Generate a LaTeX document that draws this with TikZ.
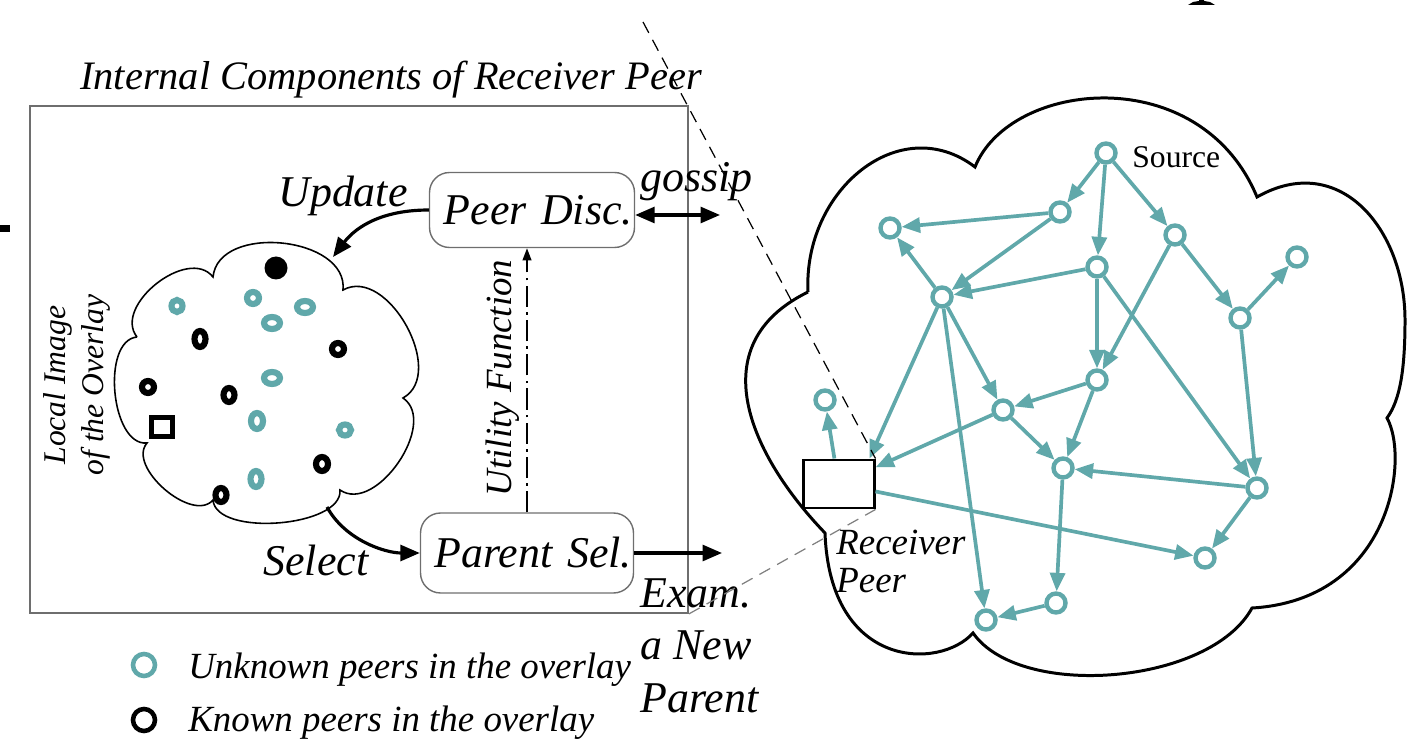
\documentclass[tikz,border=0pt]{standalone}
\usepackage{fontspec}
\setmainfont{Liberation Serif}
\usetikzlibrary{arrows.meta,positioning}
\definecolor{peerteal}{RGB}{96,168,170}
\definecolor{framegray}{RGB}{110,110,110}

\begin{document}
\begin{tikzpicture}[x=0.02cm,y=-0.02cm,
  lbl/.style={font=\fontsize{25}{30}\selectfont\itshape},
  comp/.style={draw=framegray,line width=0.8pt,rounded corners=0.4cm,inner xsep=1pt,align=right,lbl},
  peer/.style={circle,draw=peerteal,line width=2.5pt,minimum size=0.38cm,inner sep=0pt},
  link/.style={peerteal,line width=2.1pt,-{Triangle[length=10.5pt,width=8.5pt]}},
  bigarrow/.style={line width=1.8pt,-{Triangle[length=11pt,width=9pt]}},
  utilarrow/.style={line width=1.1pt,dash pattern=on 12pt off 3pt on 1.5pt off 3pt,-{Triangle[length=7pt,width=5pt]}},
  zoomline/.style={line width=0.7pt,dash pattern=on 7pt off 4.5pt},
  puff/.style={bend left=90,looseness=#1},puff/.default=1,
  legring/.style={circle,line width=2.6pt,minimum size=0.44cm,inner sep=0pt}]
\useasboundingbox (0,0) rectangle (1408,739);

% cut-off glyph fragments at the page edge
\fill (0,225) rectangle (10,232);
\fill (1188,5) -- (1215,5) -- (1210,2) -- (1204,1) -- (1204,0) -- (1199,0) -- (1199,1) -- (1193,2) -- cycle;

% receiver peer internals
\node[draw=framegray,line width=1.1pt,minimum width=13.16cm,minimum height=10.14cm,inner sep=0pt] (frame) at (359,359.5) {};
\node[font=\fontsize{23}{28}\selectfont\itshape,anchor=base,inner sep=0pt] (ttl) at (391,90) {Internal Components of Receiver Peer};

\node[comp,text width=4.03cm,minimum height=1.5cm] (pd) at (532,210) {Peer Disc.};
\node[comp,text width=4.19cm,minimum height=1.6cm] (ps) at (527,553) {Parent Sel.};

% local image of the overlay
\draw[line width=0.9pt] (137,337) to[puff=1.05] (213,277) to[puff=1.06] (343,290) to[puff=1.05] (403,398)
  to[puff] (340,490) to[puff=0.75] (213,500) to[puff=0.92] (147,443) to[puff=0.87] (137,337);
\node[rotate=90,align=center,font=\fontsize{18}{21.5}\selectfont\itshape] (locimg) at (77,385) {Local Image\\of the Overlay};

\foreach \x/\y/\rx/\ry in {177/306/5.5/6, 253/298/6/6, 305/307/8/6, 272/323/8/6,
    272/378/8/6, 257/421/6/8, 345/430/6/5.5, 256/479/5.5/8}
  \draw[peerteal,line width=3.5pt] (\x,\y) ellipse [x radius=\rx,y radius=\ry];
\foreach \x/\y/\rx/\ry in {200/339/5.5/8, 338/349/6/6, 148/387/6/6,
    229/395/5.5/7, 322/464/6/7, 221/495/5.5/7}
  \draw[line width=3.5pt] (\x,\y) ellipse [x radius=\rx,y radius=\ry];
\fill (276,268) circle [radius=11.5];
\draw[line width=2.5pt] (151.5,417.5) rectangle (172.5,436.5);

% update / select / utility
\coordinate (updin) at (333,257);
\coordinate (selout) at (327,507);
\draw[bigarrow] (pd.west) .. controls (375,210) and (352,232) .. (updin);
\draw[bigarrow] (selout) .. controls (345,540) and (385,553) .. (ps.west);
\node[lbl,anchor=base west,inner sep=0pt] (upd) at (278,207) {Update};
\node[lbl,anchor=base west,inner sep=0pt] (sel) at (263,575) {Select};

\draw[utilarrow] (ps.north) -- (ps.north |- pd.south);
\node[rotate=90,font=\fontsize{21}{25}\selectfont\itshape] (uf) at (503,378) {Utility Function};

% gossip and examining a new parent
\coordinate (gsp) at (720,215);
\coordinate (exm) at (722,553);
\draw[bigarrow,{Triangle[length=11pt,width=9pt]}-{Triangle[length=11pt,width=9pt]}] (pd.east |- gsp) -- (gsp);
\draw[bigarrow] (ps.east) -- (exm);
\node[lbl,anchor=base west,inner sep=0pt] (gos) at (640,192) {gossip};
\node[lbl,anchor=north west,align=left,inner sep=0pt] (exam) at (640,578) {Exam.\\a New\\Parent};

% overlay
\draw[line width=1.7pt] (808,292) .. controls (803,190) and (900,110) .. (975,167)
  .. controls (1010,80) and (1200,60) .. (1257,197)
  .. controls (1340,150) and (1405,230) .. (1405,320) .. controls (1405,370) and (1400,400) .. (1387,418)
  .. controls (1410,460) and (1390,600) .. (1252,608)
  .. controls (1210,685) and (1020,700) .. (973,633)
  .. controls (940,670) and (830,670) .. (825,533)
  .. controls (750,455) and (700,345) .. (808,292);

\node[draw,fill=white,line width=1.7pt,minimum width=1.42cm,minimum height=0.96cm,inner sep=0pt] (rcv) at (838.5,484) {};
\node[anchor=north west,align=left,inner sep=0pt,font=\fontsize{21}{21.5}\selectfont\itshape] (rcvlbl) at (836,530) {Receiver\\Peer};

\foreach \n/\x/\y in {src/1106/153, n1/1060/212, n2/890/228, n3/1097/267, n4/1175/235,
    n5/1297/257, n6/942/297, n7/1240/318, n8/1097/380, n9/1003/410, n10/825/400,
    n11/1063/468, n12/1257/488, n13/1205/558, n14/1056/603, n15/986/620}
  \node[peer] (\n) at (\x,\y) {};
\node[anchor=base west,inner sep=0pt,font=\fontsize{18}{22}\selectfont] (srclbl) at (1132,168) {Source};

\foreach \s/\t in {src/n1, src/n3, src/n4, n1/n2, n1/n6, n3/n6, n6/n2, n4/n8, n3/n8, n3/n12,
    n4/n7, n7/n5, n7/n12, n6/n9, n6/n15, n8/n9, n8/n11, n9/rcv, n9/n11, rcv/n10, rcv/n13,
    n12/n11, n12/n13, n11/n14, n14/n15}
  \draw[link] (\s) -- (\t);
\draw[link] (n6) -- ([xshift=-0.12cm]rcv.north east);

% zoom lines
\coordinate (zt) at (643,22);
\draw[zoomline] (zt) -- (rcv.north east);
\draw[zoomline,gray] (frame.south east) -- (rcv.south east);

% legend
\node[legring,draw=peerteal] (lgu) at (144,665) {};
\node[anchor=base west,inner sep=0pt,font=\fontsize{21}{25}\selectfont\itshape] (lgut) at (188,678) {Unknown peers in the overlay};
\node[legring,draw=black] (lgk) at (144,720) {};
\node[anchor=base west,inner sep=0pt,font=\fontsize{21}{25}\selectfont\itshape] (lgkt) at (188,731) {Known peers in the overlay};
\end{tikzpicture}
\end{document}
